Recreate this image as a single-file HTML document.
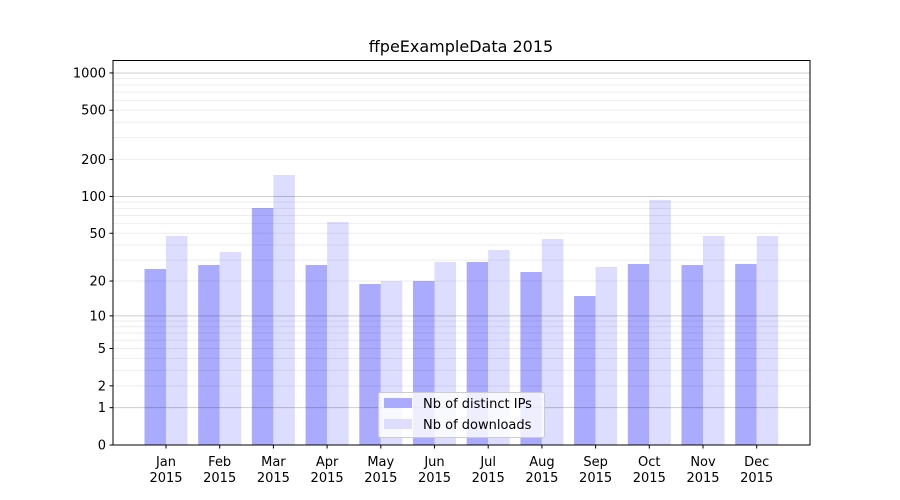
<!DOCTYPE html>
<html><head><meta charset="utf-8"><style>body{margin:0;background:#fff}svg{display:block;font-family:"DejaVu Sans","Liberation Sans",sans-serif}</style></head>
<body>
<svg id="s" width="900" height="500" viewBox="0 0 900 500" xmlns="http://www.w3.org/2000/svg">
<rect width="900" height="500" fill="#fff"/>
<text x="461" y="52" font-size="16" text-anchor="middle" fill="#000">ffpeExampleData 2015</text>
<g id="bars"></g><g id="grid"></g><g id="ax"></g>
<rect x="113" y="60.5" width="697" height="384.5" fill="none" stroke="#000" stroke-width="1"/>
<g>
<rect x="378.5" y="392.5" width="166" height="45" rx="2" fill="#fff" fill-opacity="0.8" stroke="#ccc"/>
<rect x="384" y="398" width="28" height="10" fill="#aaaaff"/>
<rect x="384" y="419" width="28" height="10" fill="#ddddff"/>
<text x="423" y="408" font-size="13">Nb of distinct IPs</text>
<text x="423" y="429" font-size="13">Nb of downloads</text>
</g>
</svg>
<script>
var NS="http://www.w3.org/2000/svg";
function el(p,t,a,txt){var e=document.createElementNS(NS,t);for(var k in a)e.setAttribute(k,a[k]);if(txt!==undefined)e.textContent=txt;document.getElementById(p).appendChild(e);return e;}
function Y(v){return 445-124*Math.log10(v+1);}
var blue=[269,265,208,265,284,281,262,272,296,264,265,264];
var light=[236,252,175,222,281,262,250,239,267,200,236,236];
var mon=["Jan","Feb","Mar","Apr","May","Jun","Jul","Aug","Sep","Oct","Nov","Dec"];
for(var i=0;i<12;i++){var c=166+i*53.7;
el("bars","rect",{x:c-21.5,y:blue[i],width:21.5,height:445-blue[i],fill:"#aaaaff"});
el("bars","rect",{x:c,y:light[i],width:21.5,height:445-light[i],fill:"#ddddff"});
el("ax","line",{x1:c,x2:c,y1:445,y2:448.5,stroke:"#000"});
el("ax","text",{x:c,y:466,"font-size":13,"text-anchor":"middle"},mon[i]);
el("ax","text",{x:c,y:482,"font-size":13,"text-anchor":"middle"},"2015");}
[1,10,100].forEach(function(d){for(var k=2;k<=9;k++){var y=Y(k*d);el("grid","line",{x1:113,x2:810,y1:y,y2:y,stroke:"#000","stroke-opacity":0.07});}});
[1,10,100,1000].forEach(function(v){var y=Y(v);el("grid","line",{x1:113,x2:810,y1:y,y2:y,stroke:"#000","stroke-opacity":0.2});});
[0,1,2,5,10,20,50,100,200,500,1000].forEach(function(v){var y=Y(v);
el("ax","line",{x1:109.5,x2:113,y1:y,y2:y,stroke:"#000"});
el("ax","text",{x:106,y:y+4.5,"font-size":13,"text-anchor":"end"},String(v));});
</script>
</body></html>
